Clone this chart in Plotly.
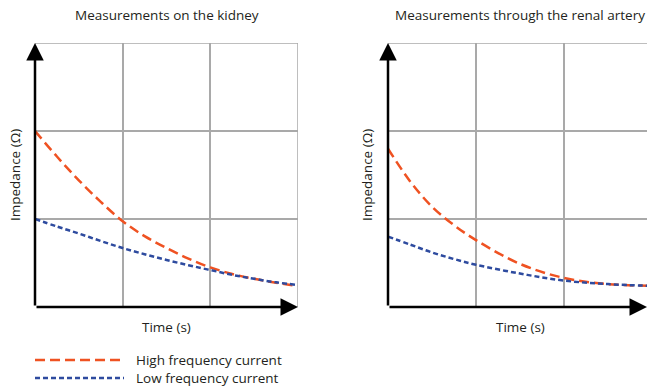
import plotly.graph_objects as go

# ---- data (axes in grid units 0..3) ----
kidney_t = [0, 0.25, 0.5, 0.75, 1.0, 1.25, 1.5, 1.75, 2.0, 2.25, 2.5, 2.75, 3.0]
kidney_high = [2.0, 1.71, 1.44, 1.195, 0.975, 0.805, 0.67, 0.55, 0.45, 0.375, 0.32, 0.275, 0.24]
kidney_low = [1.0, 0.915, 0.835, 0.75, 0.67, 0.60, 0.535, 0.475, 0.42, 0.365, 0.32, 0.28, 0.25]

artery_t = [0, 0.25, 0.5, 0.75, 1.0, 1.5, 2.0, 2.5, 3.0]
artery_high = [1.80, 1.43, 1.14, 0.93, 0.76, 0.49, 0.33, 0.26, 0.24]
artery_low = [0.80, 0.71, 0.62, 0.545, 0.48, 0.38, 0.30, 0.26, 0.24]

panel_titles = ["Measurements on the kidney", "Measurements through the renal artery"]
x_title = "Time (s)"
y_title = "Impedance (Ω)"
series_names = ["High frequency current", "Low frequency current"]

HIGH_COL = "#EF5222"
LOW_COL = "#2E4B9F"
GRID = "#A9A9A9"
TXT = "#231F20"
FONT = "Open Sans"
FS = 13.5

W, H = 647, 387
def px(x):
    return x / W
def py(y):
    return 1 - y / H

fig = go.Figure()

dash_high = "10px,5px"
dash_low = "5px,3px"

for xa, ya, t, hi, lo in [("x", "y", kidney_t, kidney_high, kidney_low),
                          ("x2", "y2", artery_t, artery_high, artery_low)]:
    fig.add_trace(go.Scatter(x=t, y=hi, mode="lines", xaxis=xa, yaxis=ya,
                             line=dict(color=HIGH_COL, width=2.5, dash=dash_high, shape="spline"),
                             name=series_names[0], showlegend=False, hoverinfo="skip"))
    fig.add_trace(go.Scatter(x=t, y=lo, mode="lines", xaxis=xa, yaxis=ya,
                             line=dict(color=LOW_COL, width=2.5, dash=dash_low, shape="spline"),
                             name=series_names[1], showlegend=False, hoverinfo="skip"))

ydom = [py(307), py(43)]
right_max = (W - 388) / 88.0

axcommon = dict(showgrid=True, gridcolor=GRID, gridwidth=1.5, dtick=1, tick0=0,
                showticklabels=False, ticks="", zeroline=False, showline=False, fixedrange=True)
fig.update_layout(
    width=W, height=H, margin=dict(l=0, r=0, t=0, b=0),
    paper_bgcolor="white", plot_bgcolor="white", showlegend=False,
    xaxis=dict(domain=[px(35), px(298)], range=[0, 3], **axcommon),
    yaxis=dict(domain=ydom, range=[0, 3], **axcommon),
    xaxis2=dict(domain=[px(388), 1], range=[0, right_max], anchor="y2", **axcommon),
    yaxis2=dict(domain=ydom, range=[0, 3], anchor="x2", **axcommon),
)

shapes = []
anns = []
for xr, yr, xmax in [("x", "y", 3), ("x2", "y2", right_max)]:
    shapes.append(dict(type="line", xref=xr, yref=yr, x0=0, x1=xmax, y0=3, y1=3,
                       line=dict(color=GRID, width=1.5)))
    if xmax >= 3:
        shapes.append(dict(type="line", xref=xr, yref=yr, x0=3, x1=3, y0=0, y1=3,
                           line=dict(color=GRID, width=1.5)))
    anns.append(dict(xref=xr, yref=yr, axref=xr, ayref=yr, x=xmax, y=0, ax=0, ay=0,
                     text="", showarrow=True, arrowhead=2, arrowsize=1.4, arrowwidth=2.5,
                     arrowcolor="black"))
    anns.append(dict(xref=xr, yref=yr, axref=xr, ayref=yr, x=0, y=3, ax=0, ay=0,
                     text="", showarrow=True, arrowhead=2, arrowsize=1.4, arrowwidth=2.5,
                     arrowcolor="black"))

for xr, title in [("x", panel_titles[0]), ("x2", panel_titles[1])]:
    anns.append(dict(xref=xr, yref="paper", x=1.5, y=py(15), text=title, showarrow=False,
                     font=dict(family=FONT, size=FS, color=TXT), yanchor="middle"))
    anns.append(dict(xref=xr, yref="paper", x=1.5, y=py(327), text=x_title, showarrow=False,
                     font=dict(family=FONT, size=FS, color=TXT), yanchor="middle"))
for xpos in [15, 367]:
    anns.append(dict(xref="paper", yref="paper", x=px(xpos), y=py(175), text=y_title,
                     showarrow=False, textangle=-90, xanchor="center", yanchor="middle",
                     font=dict(family=FONT, size=FS, color=TXT)))

for name, col, dash, yy in [(series_names[0], HIGH_COL, dash_high, 360),
                            (series_names[1], LOW_COL, dash_low, 378)]:
    shapes.append(dict(type="line", xref="paper", yref="paper", x0=px(35), x1=px(124),
                       y0=py(yy), y1=py(yy), line=dict(color=col, width=2.5, dash=dash)))
    anns.append(dict(xref="paper", yref="paper", x=px(134), y=py(yy), text=name,
                     showarrow=False, xanchor="left", yanchor="middle",
                     font=dict(family=FONT, size=FS, color=TXT)))

fig.update_layout(shapes=shapes, annotations=anns)
fig.write_html("out.html")
